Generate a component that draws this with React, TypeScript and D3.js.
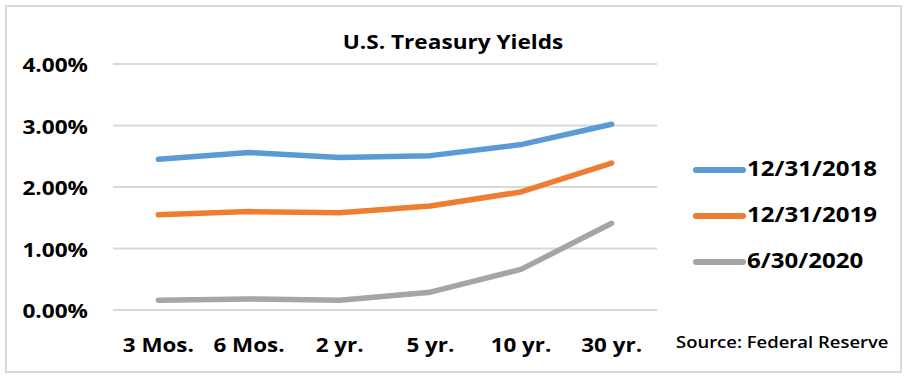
import React from "react";
import * as d3 from "d3";

const categories = ["3 Mos.", "6 Mos.", "2 yr.", "5 yr.", "10 yr.", "30 yr."];
const seriesNames = ["12/31/2018", "12/31/2019", "6/30/2020"];
const values2018 = [2.45, 2.56, 2.48, 2.51, 2.69, 3.02];
const values2019 = [1.55, 1.6, 1.58, 1.69, 1.92, 2.39];
const values2020 = [0.16, 0.18, 0.16, 0.29, 0.66, 1.41];
const yTicks = [0, 1, 2, 3, 4];
const colors = ["#5B9BD5", "#ED7D31", "#A5A5A5"];

const W = 910;
const H = 377;
const FONT = "'Open Sans', sans-serif";
const SX = 1.12;

function Txt(props: {
  x: number;
  y: number;
  size: number;
  anchor?: "start" | "middle" | "end";
  weight?: number;
  children: React.ReactNode;
}) {
  const { x, y, size, anchor = "start", weight = 700, children } = props;
  return (
    <text
      transform={`translate(${x},${y}) scale(${SX},1)`}
      textAnchor={anchor}
      fontFamily={FONT}
      fontWeight={weight}
      fontSize={size}
      fill="#000"
    >
      {children}
    </text>
  );
}

export default function App() {
  const x = d3.scaleBand<string>().domain(categories).range([113, 657]);
  const y = d3.scaleLinear().domain([0, 4]).range([310, 64]);
  const series = [values2018, values2019, values2020];
  const line = d3
    .line<number>()
    .x((_, i) => (x(categories[i]) as number) + x.bandwidth() / 2)
    .y((d) => y(d));

  return (
    <svg
      width={W}
      height={H}
      style={{ position: "absolute", left: 0, top: 0, background: "#fff" }}
    >
      <rect x={0} y={0} width={W} height={H} fill="#fff" />
      <rect x={6} y={6} width={895} height={366} fill="none" stroke="#d9d9d9" strokeWidth={2} />
      <Txt x={453} y={49} size={20.2} anchor="middle">
        U.S. Treasury Yields
      </Txt>
      {yTicks.map((t) => (
        <g key={t}>
          <line x1={113} x2={657} y1={y(t)} y2={y(t)} stroke="#d9d9d9" strokeWidth={2} />
          <Txt x={88} y={y(t) + 8} size={20.2} anchor="end">
            {d3.format(".2f")(t) + "%"}
          </Txt>
        </g>
      ))}
      {categories.map((c) => (
        <Txt key={c} x={(x(c) as number) + x.bandwidth() / 2} y={352} size={20} anchor="middle">
          {c}
        </Txt>
      ))}
      {series.map((s, i) => (
        <path
          key={i}
          d={line(s) || ""}
          fill="none"
          stroke={colors[i]}
          strokeWidth={5.5}
          strokeLinecap="round"
          strokeLinejoin="round"
        />
      ))}
      {seriesNames.map((n, i) => (
        <g key={n}>
          <line
            x1={696}
            x2={743}
            y1={170 + i * 46}
            y2={170 + i * 46}
            stroke={colors[i]}
            strokeWidth={6}
            strokeLinecap="round"
          />
          <Txt x={747} y={176 + i * 46} size={21.5}>
            {n}
          </Txt>
        </g>
      ))}
      <Txt x={676} y={348} size={16.5} weight={600}>
        Source: Federal Reserve
      </Txt>
    </svg>
  );
}
